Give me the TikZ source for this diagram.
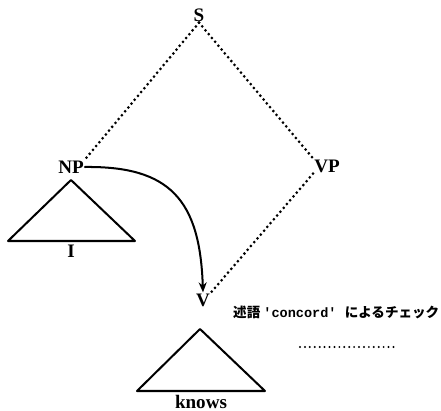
\documentclass[tikz,border=0pt]{standalone}
\usepackage{fontspec}
\setmainfont{Liberation Serif}
\newfontfamily\cjk{Noto Sans CJK JP}[UprightFont=* Bold]
\newfontfamily\monob{Liberation Mono}
\usetikzlibrary{arrows.meta}
\begin{document}
\begin{tikzpicture}[x=0.035cm,y=-0.035cm,line cap=round,line join=round,>={Stealth[length=10pt,width=8pt]},
  cat/.style={font=\fontsize{19}{19}\selectfont\bfseries,inner sep=1pt},
  dotline/.style={line width=3pt,dash pattern=on 0pt off 5pt},
  tri/.style={line width=2pt}]
\useasboundingbox (0,0) rectangle (441,411);
% nodes of the tree
\node[cat] (S) at (199,15) {S};
\node[cat] (NP) at (71,167) {NP};
\node[cat] (VP) at (327,166) {VP};
\node[cat] (V) at (203,300) {V};
\node[cat] (I) at (71,251) {I};
\node[cat,anchor=base,inner sep=0pt] (knows) at (201,408) {knows};
% dotted branches
\draw [dotline] (S.south) -- (NP.north east);
\draw [dotline] (S.south) -- (VP.north west);
\draw [dotline] (VP.south west) -- (V.north east);
% triangles
\draw [tri] (71,180) -- (8,241) -- (135,241) -- cycle;
\draw [tri] (200,329) -- (137,391) -- (265,391) -- cycle;
% the moving arrow
\draw [line width=2pt,->] (NP.east) .. controls (170,166) and (200,200) .. (V.north);
% note
\node[anchor=west,inner sep=0pt,font=\fontsize{13.5}{13.5}\selectfont\bfseries] (note) at (233,312)
  {\cjk 述語\ \monob 'concord'\ \cjk によるチェック};
\coordinate (dotA) at (300,347);
\coordinate (dotB) at (398,347);
\draw [line width=2.2pt,dash pattern=on 0pt off 4.9pt] (dotA) -- (dotB);
\end{tikzpicture}
\end{document}
